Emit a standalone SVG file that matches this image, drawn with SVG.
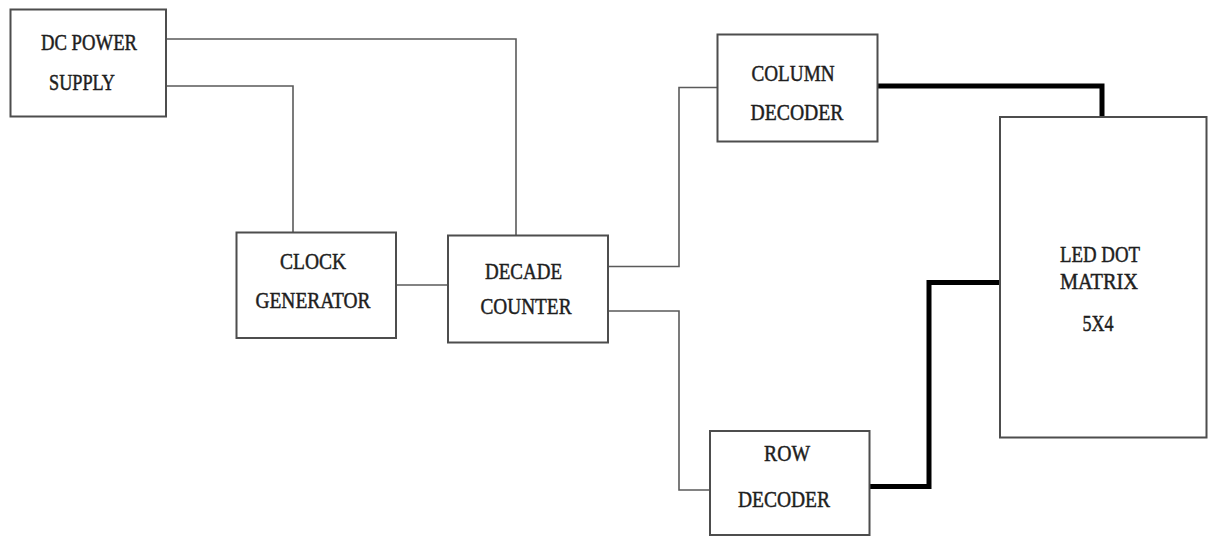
<svg xmlns="http://www.w3.org/2000/svg" width="1208" height="536" viewBox="0 0 1208 536">
<style>
.box{fill:#fff;stroke:#4d4d4d;stroke-width:2}
.lbl{font-family:"Liberation Serif","Times New Roman",serif;font-size:24px;fill:#1e1e1e;stroke:#1e1e1e;stroke-width:0.5;text-anchor:middle}
.thin{fill:none;stroke:#5a5a5a;stroke-width:1.6}
.thick{fill:none;stroke:#000;stroke-width:5}
</style>
<rect width="1208" height="536" fill="#fff"/>
<g id="connectors">
<polyline class="thin" points="166,39 516,39 516,236"/>
<polyline class="thin" points="166,86 293,86 293,232"/>
<line class="thin" x1="396" y1="285" x2="448" y2="285"/>
<polyline class="thin" points="608,266.5 679,266.5 679,87.5 717,87.5"/>
<polyline class="thin" points="608,311 679,311 679,490 710,490"/>
<polyline class="thick" points="878,86 1102,86 1102,117"/>
<polyline class="thick" points="1000,282.5 929,282.5 929,486.5 869,486.5"/>
</g>
<g id="dc-power-supply">
<rect class="box" x="10.5" y="9.5" width="155.5" height="107"/>
<text class="lbl" x="89" y="50" textLength="96" lengthAdjust="spacingAndGlyphs">DC POWER</text>
<text class="lbl" x="82" y="90" textLength="66" lengthAdjust="spacingAndGlyphs">SUPPLY</text>
</g>
<g id="clock-generator">
<rect class="box" x="236.5" y="232.5" width="159.5" height="105.5"/>
<text class="lbl" x="313" y="269" textLength="66" lengthAdjust="spacingAndGlyphs">CLOCK</text>
<text class="lbl" x="313" y="308" textLength="115" lengthAdjust="spacingAndGlyphs">GENERATOR</text>
</g>
<g id="decade-counter">
<rect class="box" x="448" y="235.5" width="160" height="107"/>
<text class="lbl" x="523.5" y="279" textLength="77" lengthAdjust="spacingAndGlyphs">DECADE</text>
<text class="lbl" x="526" y="314" textLength="91" lengthAdjust="spacingAndGlyphs">COUNTER</text>
</g>
<g id="column-decoder">
<rect class="box" x="717.5" y="34.5" width="160" height="107"/>
<text class="lbl" x="793" y="81" textLength="83" lengthAdjust="spacingAndGlyphs">COLUMN</text>
<text class="lbl" x="797" y="120" textLength="93" lengthAdjust="spacingAndGlyphs">DECODER</text>
</g>
<g id="led-dot-matrix">
<rect class="box" x="1000" y="117" width="206.5" height="320.5"/>
<text class="lbl" x="1100" y="261.5" textLength="80" lengthAdjust="spacingAndGlyphs">LED DOT</text>
<text class="lbl" x="1099" y="289" textLength="78" lengthAdjust="spacingAndGlyphs">MATRIX</text>
<text class="lbl" x="1098" y="331" textLength="31" lengthAdjust="spacingAndGlyphs">5X4</text>
</g>
<g id="row-decoder">
<rect class="box" x="710" y="431" width="159.5" height="104"/>
<text class="lbl" x="787" y="461" textLength="46" lengthAdjust="spacingAndGlyphs">ROW</text>
<text class="lbl" x="784" y="506.5" textLength="92" lengthAdjust="spacingAndGlyphs">DECODER</text>
</g>
</svg>
